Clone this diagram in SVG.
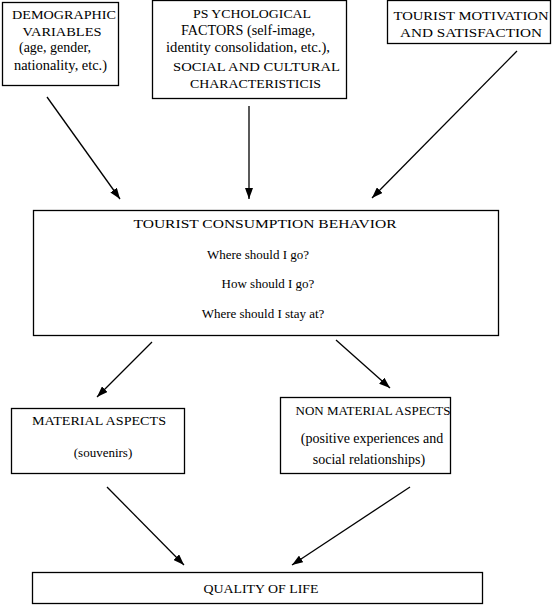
<svg xmlns="http://www.w3.org/2000/svg" width="553" height="605" viewBox="0 0 553 605">
<defs>
<marker id="ah" markerWidth="11" markerHeight="8" refX="11" refY="4" orient="auto" markerUnits="userSpaceOnUse">
<path d="M0,0 L11,4 L0,8 Z" fill="#000"/>
</marker>
<style>
.box{fill:#fff;stroke:#000;stroke-width:1.3}
.t text{font-size:13px;fill:#000;text-anchor:middle}
.t .l{font-size:14px}
.cn line{stroke:#000;stroke-width:1.3;marker-end:url(#ah)}
</style>
</defs>
<rect width="553" height="605" fill="#fff"/>
<g class="t" font-family="Liberation Serif, Times New Roman, serif">
<g id="demographic">
<rect class="box" x="2.5" y="2.5" width="116" height="83"/>
<text x="64" y="19" textLength="104" lengthAdjust="spacingAndGlyphs">DEMOGRAPHIC</text>
<text x="62" y="36" textLength="79" lengthAdjust="spacingAndGlyphs">VARIABLES</text>
<text class="l" x="55" y="52" textLength="72" lengthAdjust="spacingAndGlyphs">(age, gender,</text>
<text class="l" x="60.5" y="70" textLength="93" lengthAdjust="spacingAndGlyphs">nationality, etc.)</text>
</g>
<g id="psychological">
<rect class="box" x="152.5" y="0.5" width="194" height="98"/>
<text x="252" y="18" textLength="118" lengthAdjust="spacingAndGlyphs">PS YCHOLOGICAL</text>
<text class="l" x="248" y="35" textLength="134" lengthAdjust="spacingAndGlyphs">FACTORS (self-image,</text>
<text class="l" x="248" y="52" textLength="164" lengthAdjust="spacingAndGlyphs">identity consolidation, etc.),</text>
<text x="256.5" y="71" textLength="167" lengthAdjust="spacingAndGlyphs">SOCIAL AND CULTURAL</text>
<text x="255.5" y="88" textLength="131" lengthAdjust="spacingAndGlyphs">CHARACTERISTICIS</text>
</g>
<g id="motivation">
<rect class="box" x="387.5" y="0.5" width="163" height="43"/>
<text x="471" y="20" textLength="155" lengthAdjust="spacingAndGlyphs">TOURIST MOTIVATION</text>
<text x="471" y="37" textLength="142" lengthAdjust="spacingAndGlyphs">AND SATISFACTION</text>
</g>
<g id="consumption">
<rect class="box" x="33.5" y="210.5" width="465" height="125"/>
<text x="265" y="228" textLength="263" lengthAdjust="spacingAndGlyphs">TOURIST CONSUMPTION BEHAVIOR</text>
<text x="258" y="259">Where should I go?</text>
<text x="268" y="288">How should I go?</text>
<text x="263" y="318">Where should I stay at?</text>
</g>
<g id="material">
<rect class="box" x="11.5" y="408.5" width="173" height="65"/>
<text x="99" y="425" textLength="134" lengthAdjust="spacingAndGlyphs">MATERIAL ASPECTS</text>
<text x="103" y="457">(souvenirs)</text>
</g>
<g id="nonmaterial">
<rect class="box" x="280.5" y="397.5" width="170" height="76"/>
<text x="373" y="415" textLength="155" lengthAdjust="spacingAndGlyphs">NON MATERIAL ASPECTS</text>
<text class="l" x="372" y="443">(positive experiences and</text>
<text class="l" x="369" y="464">social relationships)</text>
</g>
<g id="quality">
<rect class="box" x="32.5" y="572.5" width="450" height="31"/>
<text x="261" y="593" textLength="115" lengthAdjust="spacingAndGlyphs">QUALITY OF LIFE</text>
</g>
</g>
<g id="connectors" class="cn">
<line x1="47" y1="97" x2="120" y2="199"/>
<line x1="249" y1="106" x2="249" y2="199"/>
<line x1="517" y1="51" x2="372" y2="198"/>
<line x1="152" y1="342" x2="97" y2="397"/>
<line x1="336" y1="340" x2="390" y2="388"/>
<line x1="107" y1="487" x2="184" y2="565"/>
<line x1="410" y1="487" x2="292" y2="565"/>
</g>
</svg>
